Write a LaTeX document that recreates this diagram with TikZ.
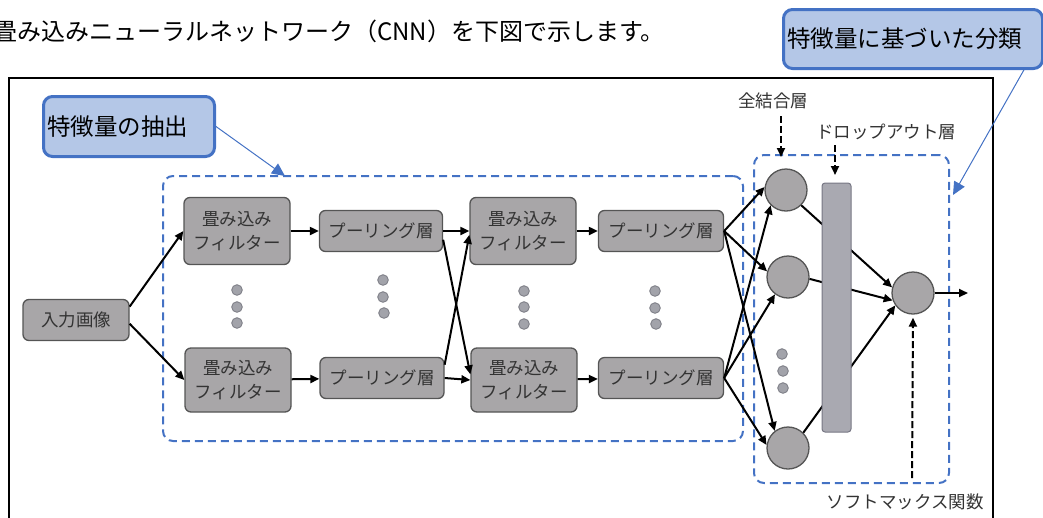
\documentclass[tikz,border=0pt]{standalone}
\usepackage{fontspec}
\newfontfamily\jp{Noto Sans CJK JP}
\usetikzlibrary{arrows.meta}
\definecolor{nodegray}{HTML}{A8A6A8}
\definecolor{nodeedge}{HTML}{555555}
\definecolor{bargray}{HTML}{A9A9B1}
\definecolor{baredge}{HTML}{777784}
\definecolor{dotgray}{HTML}{A2A3AA}
\definecolor{dotedge}{HTML}{7F8088}
\definecolor{bluedash}{HTML}{4472C4}
\definecolor{callfill}{HTML}{B4C7E7}
\definecolor{txtgray}{HTML}{333333}
\begin{document}
\begin{tikzpicture}[x=1pt,y=-1pt,
  box/.style={draw=nodeedge, fill=nodegray, line width=1.3pt, rounded corners=6pt,
    inner sep=0pt, align=center, font=\jp\fontsize{17.5}{24}\selectfont, text=txtgray},
  neuron/.style={circle, draw=nodeedge, fill=nodegray, line width=1.3pt, minimum size=42pt, inner sep=0pt},
  barbox/.style={draw=baredge, fill=bargray, line width=1pt, rounded corners=3pt, inner sep=0pt},
  grp/.style={draw=bluedash, line width=2pt, dash pattern=on 8pt off 5pt, rounded corners=10pt},
  callout/.style={draw=bluedash, fill=callfill, line width=3pt, rounded corners=9pt, align=left,
    font=\jp\fontsize{23.5}{28}\selectfont, text=black},
  callarrow/.style={draw=bluedash, line width=1pt, -{Triangle[length=13pt,width=12pt]}},
  lbl/.style={font=\jp\fontsize{17.5}{20}\selectfont, text=txtgray, inner sep=0pt},
  arr/.style={line width=2pt, -{Triangle[length=9pt,width=8pt]}},
  dasharrow/.style={line width=2pt, dash pattern=on 7pt off 3pt, -{Triangle[length=9pt,width=8pt]}},
  dotc/.style={draw=dotedge, fill=dotgray, line width=0.9pt}
]
\useasboundingbox (0,0) rectangle (1043,517);

% title
\node[anchor=west, inner sep=0pt, font=\jp\fontsize{24}{28}\selectfont] (title) at (-7,31)
  {畳み込みニューラルネットワーク（CNN）を下図で示します。};

% outer frame
\draw[line width=2pt] (9,78) rectangle (993,545);

% group boxes
\node[grp, minimum width=580pt, minimum height=265pt, inner sep=0pt] (g1) at (453,308.5) {};
\node[grp, minimum width=195pt, minimum height=328pt, inner sep=0pt] (g2) at (851.5,319) {};

% nodes
\node[box, minimum width=106pt, minimum height=41pt] (in) at (76,320) {入力画像};
\node[box, minimum width=106pt, minimum height=67pt] (c1) at (237,231) {畳み込み\\フィルター};
\node[box, minimum width=106pt, minimum height=64pt] (c2) at (238,380) {畳み込み\\フィルター};
\node[box, minimum width=123pt, minimum height=41pt] (p1) at (381,231) {プーリング層};
\node[box, minimum width=124pt, minimum height=41pt] (p2) at (382,378) {プーリング層};
\node[box, minimum width=106pt, minimum height=67pt] (c3) at (523,231) {畳み込み\\フィルター};
\node[box, minimum width=106pt, minimum height=64pt] (c4) at (524,380) {畳み込み\\フィルター};
\node[box, minimum width=125pt, minimum height=41pt] (p3) at (661,231) {プーリング層};
\node[box, minimum width=125pt, minimum height=41pt] (p4) at (661,378) {プーリング層};
\node[neuron] (f1) at (786,190) {};
\node[neuron] (f2) at (788,277) {};
\node[neuron] (f3) at (788,448) {};
\node[neuron] (out) at (913,293) {};

% dots
\foreach \x/\y in {237/290,237/307,237/323, 383/280,383/297,384/313,
                   524/291,524/307,524/324, 655/291,655/308,656/324,
                   782/354,783/371,783/388}
  \draw[dotc] (\x,\y) circle (5.3pt);

% connectors
\draw[arr] (in.14) -- (c1.west);
\draw[arr] (in.-4) -- (c2.west);
\draw[arr] (c1) -- (p1);
\draw[arr] (c2) -- (p2);
\draw[arr] (p1.east) -- (c3.west);
\draw[arr] (p1.-8) -- (c4.174);
\draw[arr] (p2.east) -- (c4.west);
\draw[arr] (p2.12) -- (c3.184);
\draw[arr] (c3) -- (p3);
\draw[arr] (c4) -- (p4);
\draw[arr] (p3.east) -- (f1.172);
\draw[arr] (p3.east) -- (f2.165);
\draw[arr] (p3.east) -- (f3.128);
\draw[arr] (p4.east) -- (f1.225);
\draw[arr] (p4.east) -- (f2.233);
\draw[arr] (p4.east) -- (f3.172);
\draw[arr] (f1.-45) -- (out.165);
\draw[arr] (f2.-5) -- (out.200);
\draw[arr] (f3.45) -- (out.215);
\node[barbox, minimum width=29pt, minimum height=249pt] (bar) at (836.5,307.5) {};
\coordinate (outend) at (968,293);
\draw[arr] (out.east) -- (outend);

% callouts
\node[callout, anchor=north west, text width=164pt, minimum height=60pt, inner sep=3.5pt] (cA) at (42,95) {特徴量の抽出};
\coordinate (cAtip) at (285,176);
\draw[callarrow] (cA.east) -- (cAtip);
\node[callout, anchor=north west, text width=252pt, minimum height=59pt, inner sep=3.5pt] (cB) at (782,8) {特徴量に基づいた分類};
\coordinate (cBstart) at (1025,68);
\coordinate (cBtip) at (953,195);
\draw[callarrow] (cBstart) -- (cBtip);

% labels
\node[lbl] (lfc) at (773,101) {全結合層};
\coordinate (fcA) at (781,116);
\coordinate (fcB) at (781,157);
\draw[dasharrow] (fcA) -- (fcB);
\node[lbl] (ldo) at (886,132) {ドロップアウト層};
\coordinate (doA) at (835,145);
\coordinate (doB) at (835,175);
\draw[dasharrow] (doA) -- (doB);
\node[lbl] (lsm) at (905,502) {ソフトマックス関数};
\coordinate (smA) at (912,478);
\draw[dasharrow, shorten >=3pt] (smA) -- (out.south);
\end{tikzpicture}
\end{document}
